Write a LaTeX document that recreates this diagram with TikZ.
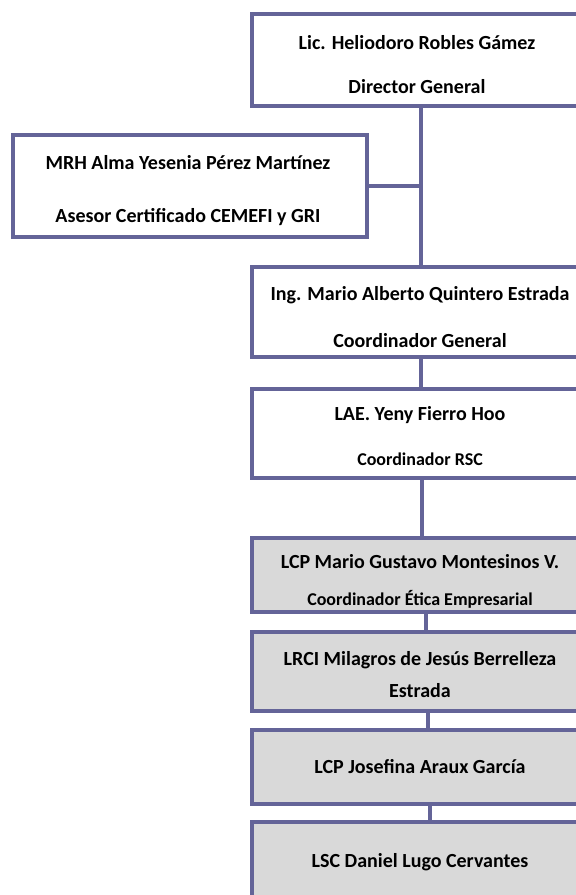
\documentclass[tikz,border=0pt]{standalone}
\usepackage{fontspec}
\setmainfont{Carlito}
\definecolor{frame}{RGB}{100,100,152}
\definecolor{boxgray}{RGB}{217,217,217}
\begin{document}
\begin{tikzpicture}[x=1pt,y=-1pt,
  orgbox/.style={draw=frame, line width=4.5pt, rectangle, inner sep=0pt},
  wbox/.style={orgbox, fill=white},
  gbox/.style={orgbox, fill=boxgray},
  link/.style={draw=frame, line width=4pt},
  big/.style={font=\fontsize{20}{24}\selectfont\bfseries, inner sep=0pt, anchor=base},
  small/.style={font=\fontsize{18}{21}\selectfont\bfseries, inner sep=0pt, anchor=base}]
\useasboundingbox (0,0) rectangle (576,895);
\clip (0,0) rectangle (576,895);
\fill[white] (0,0) rectangle (576,895);

% boxes
\node[wbox, minimum width=336pt, minimum height=92pt] (b1) at (420,60) {};
\node[wbox, minimum width=354pt, minimum height=102pt] (b2) at (190,186) {};
\node[wbox, minimum width=336pt, minimum height=90pt] (b3) at (420,312) {};
\node[wbox, minimum width=336pt, minimum height=89pt] (b4) at (420,433.5) {};
\node[gbox, minimum width=336pt, minimum height=74pt] (b5) at (420,575) {};
\node[gbox, minimum width=336pt, minimum height=79pt] (b6) at (420,671.5) {};
\node[gbox, minimum width=336pt, minimum height=74pt] (b7) at (420,767) {};
\node[gbox, minimum width=336pt, minimum height=86pt] (b8) at (420,865) {};

% connectors
\draw[link] ([xshift=1pt]b1.south) -- ([xshift=1pt]b3.north);
\draw[link] (b2.east) -- (b2.east -| b3.north);
\draw[link] ([xshift=1pt]b3.south) -- ([xshift=1pt]b4.north);
\draw[link] ([xshift=2pt]b4.south) -- ([xshift=2pt]b5.north);
\draw[link] ([xshift=6pt]b5.south) -- ([xshift=6pt]b6.north);
\draw[link] ([xshift=8pt]b6.south) -- ([xshift=8pt]b7.north);
\draw[link] ([xshift=10pt]b7.south) -- ([xshift=10pt]b8.north);

% texts
\node[big] (t1a) at (417,49) {Lic. Heliodoro Robles Gámez};
\node[big] (t1b) at (417,93) {Director General};
\node[big] (t2a) at (188,169) {MRH Alma Yesenia Pérez Martínez};
\node[big] (t2b) at (188,222) {Asesor Certificado CEMEFI y GRI};
\node[big] (t3a) at (420,300) {Ing. Mario Alberto Quintero Estrada};
\node[big] (t3b) at (420,347) {Coordinador General};
\node[big] (t4a) at (420,420) {LAE. Yeny Fierro Hoo};
\node[small] (t4b) at (420,465) {Coordinador RSC};
\node[big] (t5a) at (420,568) {LCP Mario Gustavo Montesinos V.};
\node[small] (t5b) at (420,605) {Coordinador Ética Empresarial};
\node[big] (t6a) at (420,665) {LRCI Milagros de Jesús Berrelleza};
\node[big] (t6b) at (420,697) {Estrada};
\node[big] (t7) at (420,773) {LCP Josefina Araux García};
\node[big] (t8) at (420,867) {LSC Daniel Lugo Cervantes};
\end{tikzpicture}
\end{document}
